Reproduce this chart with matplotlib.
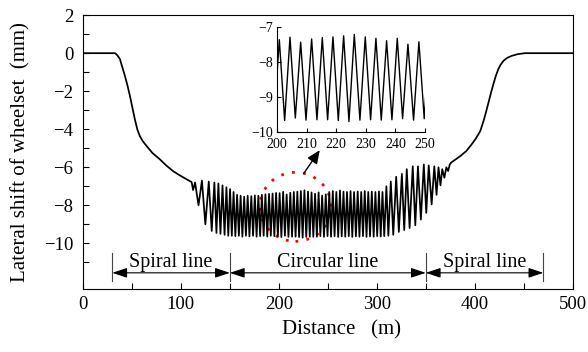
import matplotlib
matplotlib.use("Agg")
import matplotlib.pyplot as plt
from matplotlib.patches import Ellipse

plt.rcParams['font.family'] = ['Liberation Serif', 'DejaVu Serif']

# data (distance in m, lateral shift in mm)
approach_x = [0, 30, 32.7, 35, 37.7, 40, 42.9, 45.5, 48, 50.5, 53, 55.5, 58, 61, 65,
              71, 78.5, 85, 92, 99, 105.8, 109]
approach_y = [0, 0, 0, -0.1, -0.3, -0.7, -1.2, -1.7, -2.25, -2.85, -3.47, -4.0, -4.35,
              -4.62, -4.88, -5.25, -5.58, -5.9, -6.2, -6.43, -6.63, -6.72]

entry_x = [111, 112.5, 114.5, 118, 121.5, 125, 128.5, 131.5, 134.2, 136.3, 138.3,
           140.4, 142.5, 144.6, 146.5, 148.4]
entry_y = [-6.78, -7.2, -6.8, -8.0, -6.7, -9.0, -6.75, -9.35, -6.8, -9.45, -6.85,
           -9.5, -6.95, -9.55, -7.05, -9.6]

circ_x = [150.2, 152.0, 153.8, 155.6, 157.4, 159.2, 161.0, 162.8, 164.6, 166.4,
          168.2, 170.0, 171.9, 173.7, 175.5, 177.3, 179.1, 180.9, 182.7, 184.5,
          186.3, 188.2, 190.0, 191.8, 193.6, 195.4, 197.2, 199.0,
          200.8, 202.6, 204.4, 206.2, 208.0, 209.8, 211.7, 213.5, 215.3, 217.1,
          218.9, 220.7, 222.5, 224.3, 226.1, 228.0, 229.8, 231.6, 233.4, 235.2,
          237.0, 238.8, 240.6, 242.4, 244.2, 246.1, 247.9, 249.7,
          251.5, 253.3, 255.1, 256.9, 258.7, 260.6, 262.4, 264.2, 266.0, 267.8,
          269.6, 271.4, 273.2, 275.0, 276.8, 278.7, 280.5, 282.3, 284.1, 285.9,
          287.7, 289.5, 291.3, 293.1, 294.9, 296.8, 298.6, 300.4, 302.2, 304.0,
          305.8, 307.6]
circ_y = [-7.15, -9.6, -7.3, -9.62, -7.45, -9.6, -7.5, -9.65, -7.55, -9.6,
          -7.5, -9.63, -7.52, -9.6, -7.48, -9.65, -7.5, -9.62, -7.45, -9.6,
          -7.42, -9.64, -7.4, -9.6, -7.38, -9.62, -7.35, -9.65,
          -7.36, -9.67, -7.29, -9.6, -7.43, -9.66, -7.34, -9.65, -7.3, -9.65,
          -7.28, -9.67, -7.25, -9.7, -7.21, -9.66, -7.28, -9.65, -7.32, -9.66,
          -7.39, -9.65, -7.32, -9.62, -7.49, -9.66, -7.42, -9.62,
          -7.3, -9.65, -7.25, -9.62, -7.3, -9.66, -7.22, -9.63, -7.28, -9.65,
          -7.3, -9.62, -7.25, -9.66, -7.3, -9.63, -7.27, -9.65, -7.3, -9.62,
          -7.25, -9.66, -7.3, -9.63, -7.28, -9.65, -7.3, -9.62, -7.27, -9.64,
          -7.3, -9.62]

exit_x = [309.8, 311.8, 314.3, 316.8, 319.8, 322.5, 325.6, 328, 330.6, 333.5,
          336.7, 339.3, 342, 345, 348, 350.5, 353, 356, 358.7, 361, 363, 365,
          366.8, 369, 371, 372.8, 374.5]
exit_y = [-7.0, -9.6, -6.75, -9.55, -6.5, -9.4, -6.35, -9.3, -6.1, -9.2,
          -5.95, -9.05, -5.95, -8.75, -5.85, -8.4, -5.9, -7.95, -5.95, -7.45,
          -6.0, -6.95, -6.1, -6.55, -6.0, -6.2, -5.85]

depart_x = [376, 380.6, 385.5, 391.5, 396, 400.6, 405.7, 409, 411.5, 414, 416.5,
            419, 421.5, 424, 426.5, 429.3, 433, 437.8, 444, 451.3, 500]
depart_y = [-5.75, -5.58, -5.4, -5.14, -4.85, -4.53, -4.09, -3.56, -3.1, -2.6,
            -2.1, -1.63, -1.2, -0.84, -0.6, -0.4, -0.25, -0.14, -0.05, 0, 0]

dist = approach_x + entry_x + circ_x + exit_x + depart_x
shift = approach_y + entry_y + circ_y + exit_y + depart_y

sections = ['Spiral line', 'Circular line', 'Spiral line']
section_edges = [30, 150, 350, 470]

fig = plt.figure(figsize=(5.88, 3.52), dpi=100)
ax = fig.add_axes([0.141, 0.179, 0.833, 0.778])
ax.plot(dist, shift, color='black', lw=1.25)

ax.set_xlim(0, 500)
ax.set_ylim(-12.4, 2)
ax.set_xticks(range(0, 501, 100))
ax.set_xticks(range(50, 500, 100), minor=True)
ax.set_yticks(range(-10, 3, 2))
ax.set_yticks(range(-11, 3, 2), minor=True)
ax.tick_params(which='both', direction='in', labelsize=13.5, length=4, width=0.8)
ax.tick_params(axis='y', pad=7)
ax.tick_params(axis='x', pad=5)
ax.set_xlabel('Distance   (m)', fontsize=15)
ax.set_ylabel('Lateral shift of wheelset  (mm)', fontsize=15)
ax.yaxis.set_label_coords(-0.108, 0.5)
ax.xaxis.set_label_coords(0.527, -0.115)

# section markers
for x in section_edges:
    ax.plot([x, x], [-10.5, -12.0], color='#444444', lw=0.8)
for i, name in enumerate(sections):
    a, b = section_edges[i], section_edges[i + 1]
    ax.annotate('', xy=(a, -11.55), xytext=(b, -11.55),
                arrowprops=dict(arrowstyle='<|-|>,head_length=0.9,head_width=0.3',
                                mutation_scale=10, color='black', lw=0.8,
                                shrinkA=0, shrinkB=0))
    ax.text((a + b) / 2, -11.25, name, ha='center', va='baseline', fontsize=14.5)

# highlight circle and pointer to inset
ax.add_patch(Ellipse((217, -8.08), 73, 3.63, fill=False, edgecolor='red',
                     lw=2.0, linestyle=(0, (1, 3))))
ax.annotate('', xy=(241.8, -5.1), xytext=(225.5, -6.32),
            arrowprops=dict(arrowstyle='-|>,head_length=0.8,head_width=0.35',
                            mutation_scale=10, color='black', lw=1.0,
                            shrinkA=0, shrinkB=0))

# inset
ins = fig.add_axes([0.471, 0.625, 0.252, 0.298])
ins.plot(dist, shift, color='black', lw=1.0)
ins.set_xlim(200, 250)
ins.set_ylim(-10, -7)
ins.set_xticks(range(200, 251, 10))
ins.set_yticks([-10, -9, -8, -7])
ins.spines['top'].set_visible(False)
ins.spines['right'].set_visible(False)
ins.tick_params(direction='in', labelsize=10, length=3, width=0.8)
ins.tick_params(axis='x', pad=4)
ins.tick_params(axis='y', pad=3)
ins.patch.set_alpha(0)

fig.savefig('out.png', dpi=100)
